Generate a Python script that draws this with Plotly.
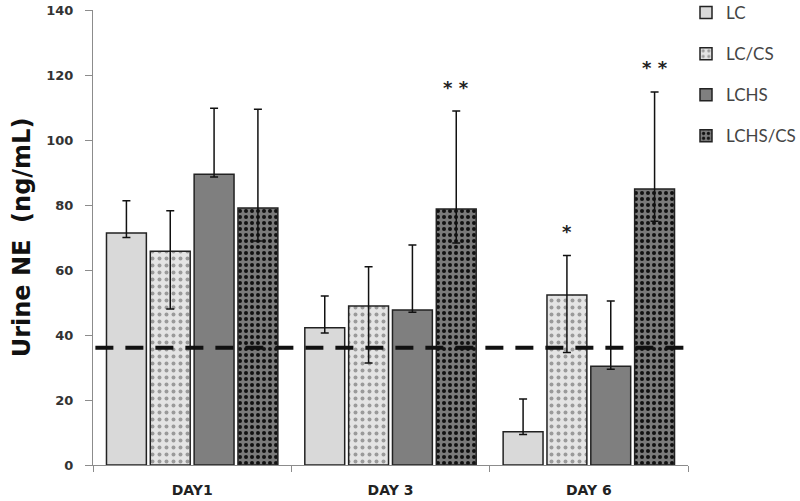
import plotly.graph_objects as go

categories = ["DAY1", "DAY 3", "DAY 6"]
series_names = ["LC", "LC/CS", "LCHS", "LCHS/CS"]

lc_vals = [71.4, 42.2, 10.2]
lc_plus = [9.9, 9.8, 10.1]
lc_minus = [1.4, 1.6, 0.8]

lccs_vals = [65.8, 48.9, 52.3]
lccs_plus = [12.4, 12.1, 12.2]
lccs_minus = [17.8, 17.5, 17.7]

lchs_vals = [89.5, 47.7, 30.4]
lchs_plus = [20.3, 20.0, 20.1]
lchs_minus = [0.9, 0.7, 0.9]

lchscs_vals = [79.1, 78.8, 84.9]
lchscs_plus = [30.4, 30.1, 29.9]
lchscs_minus = [10.2, 10.5, 9.9]

sig_lc = ["", "", ""]
sig_lccs = ["", "", "*"]
sig_lchs = ["", "", ""]
sig_lchscs = ["", "* *", "* *"]

baseline = 36.1

y_ticks = [0, 20, 40, 60, 80, 100, 120, 140]

vals = [lc_vals, lccs_vals, lchs_vals, lchscs_vals]
plus = [lc_plus, lccs_plus, lchs_plus, lchscs_plus]
minus = [lc_minus, lccs_minus, lchs_minus, lchscs_minus]
sigs = [sig_lc, sig_lccs, sig_lchs, sig_lchscs]

styles = [
    dict(color="#d9d9d9", pattern=None),
    dict(color="#e4e4e4", pattern=dict(shape=".", bgcolor="#e4e4e4", fgcolor="#9a9a9a", size=7, solidity=0.25, fillmode="replace")),
    dict(color="#7f7f7f", pattern=None),
    dict(color="#7a7a7a", pattern=dict(shape=".", bgcolor="#7a7a7a", fgcolor="#111111", size=6, solidity=0.35, fillmode="replace")),
]

fig = go.Figure()
for i, name in enumerate(series_names):
    marker = dict(color=styles[i]["color"], line=dict(color="#222222", width=1.5))
    if styles[i]["pattern"] is not None:
        marker["pattern"] = styles[i]["pattern"]
    fig.add_trace(go.Bar(
        name=name,
        x=categories,
        y=vals[i],
        marker=marker,
        legendgroup=name,
        error_y=dict(type="data", symmetric=False, array=plus[i], arrayminus=minus[i],
                     color="#111111", thickness=1.5, width=4),
    ))

L, R, T, B = 93, 112, 10, 36
W, H = 800, 501
plot_w = W - L - R
plot_h = H - T - B
bargap = 0.116
cat_px = plot_w / len(categories)
slot_px = cat_px * (1 - bargap) / len(series_names)

annotations = []
for i in range(len(series_names)):
    for j, c in enumerate(categories):
        if sigs[i][j]:
            annotations.append(dict(
                x=c, y=vals[i][j] + plus[i][j], xref="x", yref="y",
                text=sigs[i][j], showarrow=False,
                xshift=(i - (len(series_names) - 1) / 2) * slot_px,
                yshift=24, yanchor="middle",
                font=dict(family="DejaVu Sans", size=18, color="#222222", weight="bold"),
            ))

fig.add_shape(type="line", xref="paper", yref="y", x0=0.004, x1=1.0, y0=baseline, y1=baseline,
              line=dict(color="#111111", width=4, dash="18px,12px"))

fig.update_layout(
    width=W, height=H,
    margin=dict(l=L, r=R, t=T, b=B, autoexpand=False),
    paper_bgcolor="white", plot_bgcolor="white",
    barmode="group", bargap=bargap, bargroupgap=0.09,
    showlegend=True,
    legend=dict(x=1 - 2 / plot_w, y=1 + 15 / plot_h, xanchor="left", yanchor="top",
                font=dict(family="Lato", size=17, color="#444444"),
                tracegroupgap=16, bgcolor="rgba(0,0,0,0)"),
    annotations=annotations,
    xaxis=dict(showline=True, linecolor="#8c8c8c", linewidth=1, ticks="outside",
               tickson="boundaries", ticklen=6, tickcolor="#8c8c8c",
               ticklabelstandoff=12, automargin=False,
               tickfont=dict(family="DejaVu Sans", size=14, color="#222222", weight="bold"),
               showgrid=False, zeroline=False),
    yaxis=dict(range=[0, 140], tickvals=y_ticks, showline=True, linecolor="#8c8c8c",
               linewidth=1, ticks="outside", ticklen=7, tickcolor="#8c8c8c",
               automargin=False, ticklabelstandoff=9,
               tickfont=dict(family="DejaVu Sans", size=13, color="#333333", weight="bold"),
               showgrid=False, zeroline=False,
               title=dict(text="Urine NE  (ng/mL)", standoff=8,
                          font=dict(family="DejaVu Sans", size=24, color="#111111", weight="bold"))),
)

fig.write_html("out.html", config={"displayModeBar": False},
               post_script="document.body.style.margin='0';")
